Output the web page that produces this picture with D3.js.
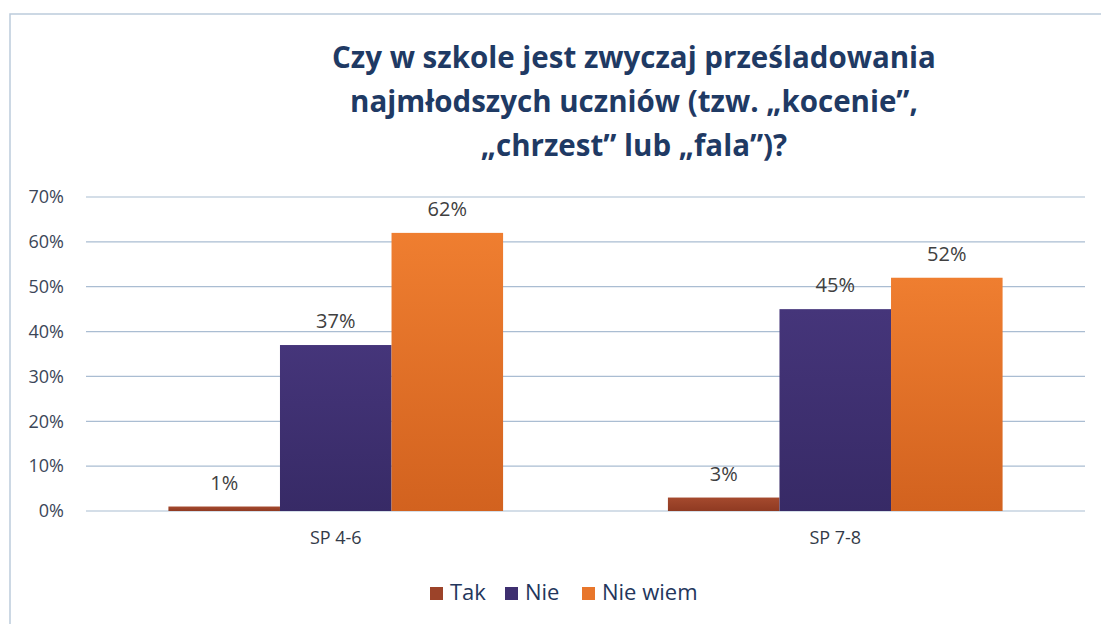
<!DOCTYPE html>
<html>
<head>
<meta charset="utf-8">
<script src="https://cdn.jsdelivr.net/npm/d3@7"></script>
<style>
  body { margin: 0; background: #fff; }
  svg { font-family: "Open Sans", "Noto Sans", sans-serif; }
</style>
</head>
<body>
<svg width="1101" height="624"></svg>
<script>
const categories = ["SP 4-6", "SP 7-8"];
const seriesNames = ["Tak", "Nie", "Nie wiem"];
const takValues = [1, 3];
const nieValues = [37, 45];
const nieWiemValues = [62, 52];
const yTicks = [0, 10, 20, 30, 40, 50, 60, 70];
const titleLines = [
    "Czy w szkole jest zwyczaj prześladowania",
    "najmłodszych uczniów (tzw. „kocenie”,",
    "„chrzest” lub „fala”)?"
];

const colors = ["#9c4329", "#3e2f70", "#e8762b"];

const seriesValues = [takValues, nieValues, nieWiemValues];
const data = categories.map((c, i) => {
    const row = { category: c };
    seriesNames.forEach((s, j) => { row[s] = seriesValues[j][i]; });
    return row;
});

const svg = d3.select("svg");

// gradients for bars
const defs = svg.append("defs");
const gradStops = [
    ["#a54a2e", "#8f3a22"],
    ["#45357a", "#372a66"],
    ["#ef7e30", "#d2621f"]
];
gradStops.forEach((g, i) => {
    const lg = defs.append("linearGradient")
        .attr("id", "grad" + i)
        .attr("x1", 0).attr("y1", 0).attr("x2", 0).attr("y2", 1);
    lg.append("stop").attr("offset", "0%").attr("stop-color", g[0]);
    lg.append("stop").attr("offset", "100%").attr("stop-color", g[1]);
});

// chart frame
svg.append("rect")
    .attr("x", 10)
    .attr("y", 14)
    .attr("width", 1100)
    .attr("height", 620)
    .attr("fill", "none")
    .attr("stroke", "#bccbdb")
    .attr("stroke-width", 1.5);

// title
svg.append("g")
    .selectAll("text")
    .data(titleLines)
    .enter()
    .append("text")
    .attr("x", 634)
    .attr("y", (d, i) => 68 + i * 44)
    .attr("text-anchor", "middle")
    .attr("font-size", "29.5px")
    .attr("font-weight", "bold")
    .attr("fill", "#1f3a64")
    .text(d => d);

const margin = { left: 86, right: 16, top: 197, bottom: 113 };
const width = 1101 - margin.left - margin.right;
const height = 624 - margin.top - margin.bottom;

const g = svg.append("g")
    .attr("transform", `translate(${margin.left}, ${margin.top})`);

const x0 = d3.scaleBand()
    .domain(categories)
    .range([0, width])
    .paddingInner(0.33)
    .paddingOuter(0.165);

const x1 = d3.scaleBand()
    .domain(seriesNames)
    .range([0, x0.bandwidth()])
    .padding(0);

const y = d3.scaleLinear()
    .domain([0, 70])
    .range([height, 0]);

// gridlines
g.append("g")
    .selectAll("line")
    .data(yTicks)
    .enter()
    .append("line")
    .attr("x1", 0)
    .attr("x2", width)
    .attr("y1", d => y(d))
    .attr("y2", d => y(d))
    .attr("stroke", "#aabdd2")
    .attr("stroke-width", 1.2);

// y axis labels
const yAxis = d3.axisLeft(y)
    .tickValues(yTicks)
    .tickSize(0)
    .tickPadding(22)
    .tickFormat(d => d + "%");

const yAxisG = g.append("g")
    .call(yAxis)
    .attr("font-size", null)
    .attr("font-family", null);
yAxisG.select(".domain").remove();
yAxisG.selectAll("text")
    .style("font-size", "18px")
    .attr("fill", "#3c4658");

// bars
const groups = g.selectAll(".group")
    .data(data)
    .enter()
    .append("g")
    .attr("class", "group")
    .attr("transform", d => `translate(${x0(d.category)}, 0)`);

groups.selectAll("rect")
    .data(d => seriesNames.map((s, j) => ({ key: s, idx: j, value: d[s] })))
    .enter()
    .append("rect")
    .attr("x", d => x1(d.key))
    .attr("y", d => y(d.value))
    .attr("width", x1.bandwidth())
    .attr("height", d => height - y(d.value))
    .attr("fill", d => `url(#grad${d.idx})`);

// data labels
groups.selectAll(".label")
    .data(d => seriesNames.map((s, j) => ({ key: s, value: d[s] })))
    .enter()
    .append("text")
    .attr("class", "label")
    .attr("x", d => x1(d.key) + x1.bandwidth() / 2)
    .attr("y", d => y(d.value) - 17)
    .attr("text-anchor", "middle")
    .style("font-size", "20px")
    .attr("fill", "#404040")
    .text(d => d.value + "%");

// x axis labels
const xAxis = d3.axisBottom(x0)
    .tickSize(0)
    .tickPadding(20);

const xAxisG = g.append("g")
    .attr("transform", `translate(0, ${height})`)
    .call(xAxis)
    .attr("font-size", null)
    .attr("font-family", null);
xAxisG.select(".domain").remove();
xAxisG.selectAll("text")
    .style("font-size", "18px")
    .attr("fill", "#333a48");

// legend
const legendX = [430, 505, 582];
const legend = svg.selectAll(".legend")
    .data(seriesNames)
    .enter()
    .append("g")
    .attr("class", "legend")
    .attr("transform", (d, i) => `translate(${legendX[i]}, 600)`);

legend.append("rect")
    .attr("x", 0)
    .attr("y", -13)
    .attr("width", 13)
    .attr("height", 13)
    .attr("fill", (d, i) => colors[i]);

legend.append("text")
    .attr("x", 20)
    .attr("y", 0)
    .style("font-size", "22px")
    .attr("fill", "#23365c")
    .text(d => d);
</script>
</body>
</html>
